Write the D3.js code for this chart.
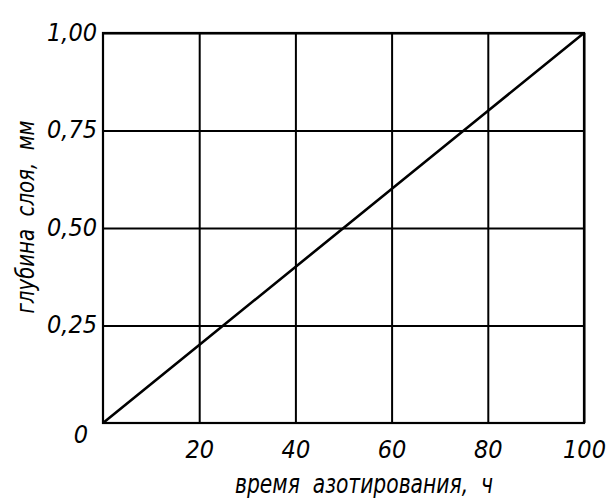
<!DOCTYPE html>
<html>
<head>
<meta charset="utf-8">
<script src="https://cdn.jsdelivr.net/npm/d3@7"></script>
<style>
  html, body { margin: 0; padding: 0; background: #fff; }
  svg text {
    font-family: 'DejaVu Sans Condensed', 'DejaVu Sans', sans-serif;
    font-stretch: condensed;
    font-style: italic;
    fill: #000;
  }
  svg text.title { white-space: pre; }
</style>
</head>
<body>
<div id="chart"></div>
<script>
// nitriding time (h) vs layer depth (mm)
const time = [0, 20, 40, 60, 80, 100];
const depth = [0, 0.2, 0.4, 0.6, 0.8, 1.0];

const xTicks = [20, 40, 60, 80, 100];
const yTicks = [0.25, 0.5, 0.75, 1.0];
const yTickLabels = ['0,25', '0,50', '0,75', '1,00'];
const originLabel = '0';
const xTitle = 'время  азотирования,  ч';
const yTitle = 'глубина  слоя,  мм';

const margin = { top: 33, right: 23, bottom: 75, left: 103 };
const width = 607 - margin.left - margin.right;
const height = 498 - margin.top - margin.bottom;

const svg = d3.select('#chart')
  .append('svg')
  .attr('width', 607)
  .attr('height', 498);

const g = svg.append('g')
  .attr('transform', `translate(${margin.left},${margin.top})`);

const x = d3.scaleLinear().domain([0, 100]).range([0, width]);
const y = d3.scaleLinear().domain([0, 1]).range([height, 0]);

// grid via axes
const xAxis = g.append('g')
  .attr('transform', `translate(0,${height})`)
  .call(d3.axisBottom(x).tickValues(xTicks).tickSize(-height).tickFormat(d3.format('d')));
xAxis.select('.domain').remove();
xAxis.selectAll('line').attr('stroke', '#000').attr('stroke-width', 2);
xAxis.selectAll('text')
  .attr('y', 35).attr('dy', 0)
  .attr('font-size', 25)
  .attr('fill', '#000');

const yAxis = g.append('g')
  .call(d3.axisLeft(y).tickValues(yTicks).tickSize(-width).tickFormat((d, i) => yTickLabels[i]));
yAxis.select('.domain').remove();
yAxis.selectAll('line').attr('stroke', '#000').attr('stroke-width', 2);
yAxis.selectAll('text')
  .attr('x', -6).attr('dy', 7)
  .attr('font-size', 25)
  .attr('fill', '#000');

// frame
g.append('rect')
  .attr('x', 0).attr('y', 0)
  .attr('width', width).attr('height', height)
  .attr('fill', 'none')
  .attr('stroke', '#000')
  .attr('stroke-width', 2.2);

// origin label
g.append('text')
  .attr('x', x(0) - 15)
  .attr('y', y(0) + 20)
  .attr('text-anchor', 'end')
  .attr('font-size', 25)
  .text(originLabel);

// the line
const line = d3.line()
  .x((d, i) => x(time[i]))
  .y(d => y(d));

g.append('path')
  .datum(depth)
  .attr('d', line)
  .attr('fill', 'none')
  .attr('stroke', '#000')
  .attr('stroke-width', 2.6);

// axis titles
svg.append('text')
  .attr('class', 'title')
  .attr('x', 364)
  .attr('y', 493)
  .attr('text-anchor', 'middle')
  .attr('font-size', 26)
  .attr('textLength', 258)
  .attr('lengthAdjust', 'spacingAndGlyphs')
  .text(xTitle);

svg.append('text')
  .attr('class', 'title')
  .attr('transform', 'translate(34,217) rotate(-90)')
  .attr('text-anchor', 'middle')
  .attr('font-size', 25)
  .attr('textLength', 193)
  .attr('lengthAdjust', 'spacingAndGlyphs')
  .text(yTitle);
</script>
</body>
</html>
